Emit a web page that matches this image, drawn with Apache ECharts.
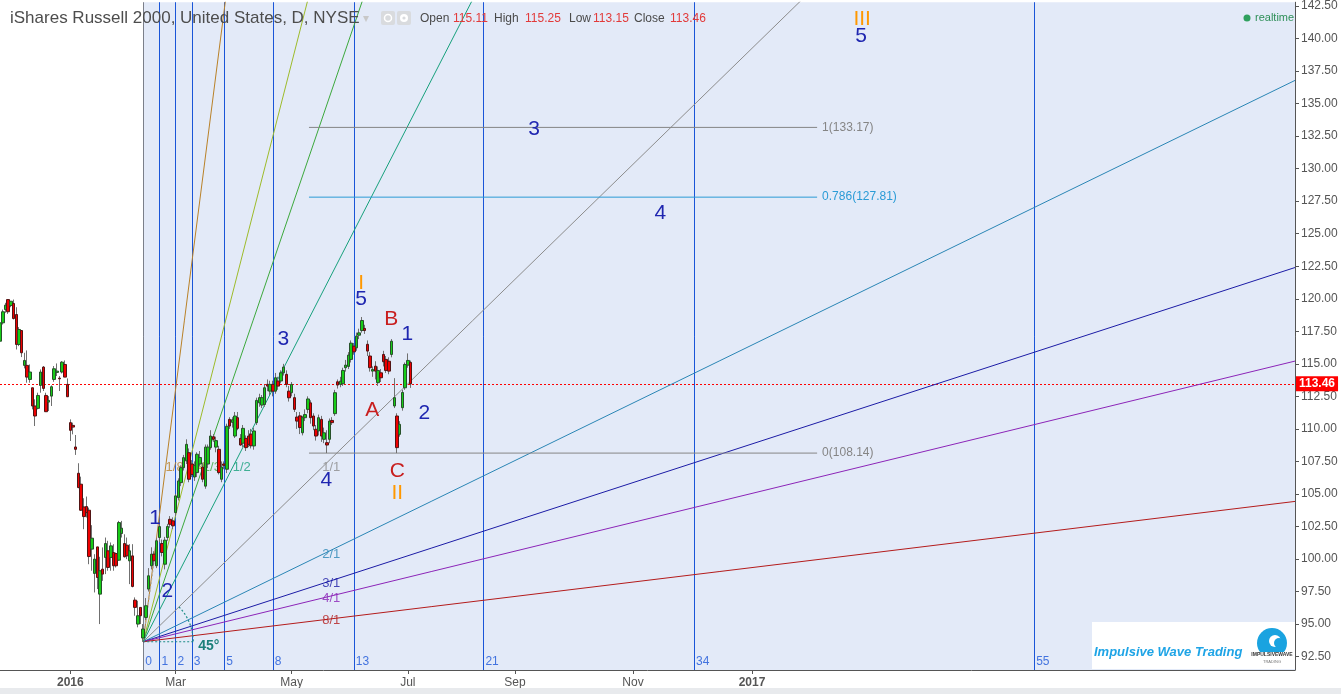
<!DOCTYPE html>
<html>
<head>
<meta charset="utf-8">
<script src="https://cdn.jsdelivr.net/npm/echarts@6.0.0/dist/echarts.min.js"></script>
<style>
html,body{margin:0;padding:0;background:#ffffff;overflow:hidden;}
#chart{width:1341px;height:694px;}
</style>
</head>
<body>
<div id="chart"></div>
<script>
const FONT = '"Liberation Sans", Arial, sans-serif';

// ---------- candles: bar index 0 = Feb 11 2016 low ----------
const firstBarIndex = -53;
const barOpen = [
116.74,118.15,119.17,119.94,119.48,119.64,118.79,116.49,117.56,114.88,114.88,113.80,113.16,111.76,111.58,113.34,114.75,112.57,112.06,112.52,
113.80,114.34,113.90,114.37,114.95,113.42,110.48,110.27,108.61,106.59,105.75,104.00,104.03,103.75,100.76,98.89,100.93,97.30,99.22,100.12,
100.63,100.12,100.50,100.42,99.91,101.96,101.19,101.06,99.86,100.24,96.84,95.00,96.28,93.93,95.51,97.69,99.48,100.37,99.48,101.65,
101.19,99.60,101.65,103.05,102.93,103.57,104.72,105.87,107.02,107.54,108.17,107.30,106.30,106.64,107.30,107.07,105.60,107.30,108.56,109.40,
108.60,108.43,106.13,107.30,106.90,110.73,110.50,109.45,110.86,109.27,108.90,109.27,109.45,109.60,108.69,110.48,112.00,111.83,111.88,113.42,
112.90,113.42,112.90,113.68,113.68,114.31,114.19,112.90,112.78,112.40,110.91,111.00,109.70,110.86,111.50,112.00,110.99,109.97,109.84,110.73,
109.20,108.94,109.20,110.65,111.17,113.62,113.42,113.47,114.70,114.80,115.34,116.36,116.23,117.20,117.56,117.72,116.50,115.60,114.44,114.82,
113.55,114.31,115.72,115.34,115.20,115.72,111.76,110.99,109.58,111.63,113.16,114.90,115.11];
const barHigh = [
118.40,119.17,119.69,119.94,119.81,119.94,119.35,117.82,117.56,115.85,116.03,114.95,113.16,112.27,112.78,114.57,114.83,112.78,112.52,113.34,
114.83,115.03,114.06,115.21,115.26,113.88,110.73,110.48,109.53,107.36,106.33,104.67,104.80,103.95,102.60,100.37,100.93,100.17,100.89,101.65,
101.40,101.27,101.14,100.50,102.93,102.93,101.90,101.65,101.14,101.14,97.05,96.79,96.28,95.00,97.00,99.30,100.90,100.60,101.60,102.90,
101.50,101.70,102.70,103.30,103.20,105.00,106.20,107.20,108.00,109.20,108.50,107.60,107.50,108.20,108.30,107.40,108.80,108.80,109.90,109.60,
109.40,108.70,107.50,107.50,110.40,110.90,110.90,111.30,111.30,109.60,110.30,109.50,109.90,110.00,110.10,112.40,112.70,112.60,113.40,113.80,
113.70,113.70,114.30,114.00,114.50,115.00,114.50,113.30,113.60,112.70,111.30,111.30,111.00,111.50,112.50,112.20,111.20,110.30,111.10,111.00,
110.10,109.90,110.80,110.90,113.00,113.80,114.00,114.70,115.30,115.90,116.80,116.60,117.40,117.70,118.60,118.00,116.80,115.90,114.80,115.20,
114.80,114.60,116.00,115.60,115.50,116.90,113.90,111.20,110.60,113.00,115.10,115.80,115.25];
const barLow = [
116.50,118.02,118.92,118.84,119.35,118.41,116.10,116.36,115.52,114.65,113.55,113.55,111.50,110.22,111.50,112.78,112.91,111.32,111.37,111.76,
113.62,114.06,112.91,114.26,113.98,112.47,109.07,109.58,108.00,105.44,103.70,102.29,103.19,99.60,99.10,97.43,97.69,95.00,98.32,98.84,
99.10,99.10,99.10,99.35,99.86,101.65,100.12,99.99,98.07,97.82,95.64,94.75,95.00,93.64,95.30,97.50,99.20,99.50,99.30,101.30,
100.20,99.20,101.40,102.40,102.30,103.30,104.50,105.60,106.80,107.30,105.90,106.30,106.00,106.30,107.10,105.90,105.40,107.00,108.40,109.00,
108.20,106.50,105.90,106.90,106.60,110.00,110.10,109.30,109.90,108.70,108.60,108.30,108.60,108.50,108.40,110.30,111.70,111.60,111.70,112.90,
112.60,112.50,112.70,113.00,113.50,114.10,113.20,112.10,112.50,111.30,110.00,109.60,109.50,110.60,111.20,110.40,109.90,109.10,109.50,109.00,
108.90,108.14,108.90,110.30,111.00,113.10,113.20,113.30,114.40,114.60,115.10,115.70,116.00,116.90,117.40,117.30,115.60,114.40,114.00,113.80,
113.30,113.60,114.80,114.30,114.20,115.50,111.60,108.14,109.40,111.40,113.00,114.70,113.15];
const barClose = [
118.15,119.00,119.51,119.00,119.81,118.48,116.49,117.64,115.85,115.26,113.98,114.37,111.76,110.99,112.57,114.37,113.11,111.32,112.19,113.24,
114.62,114.44,113.85,115.13,113.98,112.47,109.89,110.14,108.43,105.49,103.75,103.26,103.57,100.19,101.60,99.99,98.58,99.10,98.84,101.19,
99.35,101.01,99.48,99.48,102.80,102.37,100.17,100.24,100.63,97.89,96.28,95.64,95.64,94.62,96.41,98.71,100.37,99.86,101.40,102.49,
100.50,101.45,102.50,102.67,102.55,104.85,106.00,107.02,107.79,108.81,106.13,106.50,107.20,108.05,107.80,106.13,108.60,108.60,109.45,109.20,
109.10,106.64,107.07,107.20,110.20,110.22,110.70,110.99,110.04,108.76,110.04,108.56,108.81,108.70,109.84,112.19,112.40,112.40,113.16,113.29,
113.42,112.90,113.93,113.29,114.31,114.75,113.42,112.39,113.42,111.50,110.60,110.10,110.86,111.10,112.30,110.86,110.22,109.45,110.86,109.45,
109.70,108.76,110.60,110.48,112.78,113.37,113.67,114.49,114.90,115.67,116.59,115.92,117.13,117.38,118.33,117.56,115.98,114.70,114.57,114.44,
114.49,113.93,115.16,114.49,114.44,116.74,112.40,108.56,110.35,112.80,114.95,115.26,113.46];

// ---------- axes ----------
const dateTickBars = [-27, 12, 55, 98, 137.7, 181.4, 225.5];
const dateTickLabels = ['2016', 'Mar', 'May', 'Jul', 'Sep', 'Nov', '2017'];
const priceTicks = [92.5,95,97.5,100,102.5,105,107.5,110,112.5,115,117.5,120,122.5,125,127.5,130,132.5,135,137.5,140,142.5];

// ---------- Fibonacci time zones ----------
const fibZoneNumbers = [0, 1, 2, 3, 5, 8, 13, 21, 34, 55];
const fibZoneUnitBars = 6;

// ---------- Gann fan ----------
const fanOrigin = [0, 93.64];
const fanEnd = [66.3, 107.05];
const fanNames = ['1/8', '1/4', '1/3', '1/2', '1/1', '2/1', '3/1', '4/1', '8/1'];
const fanMultipliers = [8, 4, 3, 2, 1, 1 / 2, 1 / 3, 1 / 4, 1 / 8];

// ---------- Fibonacci retracement ----------
const fibRetrFromBar = 61.4;
const fibRetrToBar = 249.6;
const fibRetrLevels = ['1', '0.786', '0'];
const fibRetrPrices = [133.17, 127.81, 108.14];

// ---------- Elliott wave labels ----------
const waveText  = ['1', '2', '3', '4', 'I', '5', 'A', 'B', 'C', 'II', '1', '2', '3', '4', 'III', '5'];
const waveKind  = ['minor','minor','minor','minor','major','minor','abc','abc','abc','major','minor','minor','minor','minor','major','minor'];
const waveBar   = [4.4, 8.9, 51.9, 67.8, 80.7, 80.7, 84.8, 91.9, 94.1, 94.1, 97.8, 104.1, 144.8, 191.5, 266.3, 265.9];
const wavePrice = [103.16, 97.56, 116.9, 106.08, 121.2, 119.97, 111.45, 118.43, 106.77, 105.08, 117.28, 111.22, 133.0, 126.57, 141.46, 140.15];

// extra dotted guide from the low
const guideBars = [0, 5.1];
const guidePrices = [93.8, 101.3];

// ================= styling / layout =================
const X_MIN = -53.04, X_MAX = 426.6;
const Y_MIN = 91.47, Y_MAX = 142.79;
const fanColors = ['#b98128', '#9dbb2a', '#3ca83c', '#17a07c', '#8c8c8c', '#2a86b5', '#1c1ca6', '#8c25b8', '#b41c1c'];
const fibRetrColors = ['#858585', '#2a9bd6', '#858585'];
const waveColors = { minor: '#1f26b0', major: '#ff9800', abc: '#c81e1e' };
const zoneColor = '#1a55d8';

const n = barOpen.length;
const wickData = [], bodyData = [];
for (let i = 0; i < n; i++) {
  const x = firstBarIndex + i;
  wickData.push([x, barOpen[i], barClose[i], barLow[i], barHigh[i]]);
  bodyData.push([x, barOpen[i], barClose[i], Math.min(barOpen[i], barClose[i]), Math.max(barOpen[i], barClose[i])]);
}

const series = [];

// background + zones
series.push({
  type: 'line', data: [], z: 1, silent: true,
  markArea: { silent: true, itemStyle: { color: '#e3eaf8' }, data: [[{ xAxis: 0 }, { xAxis: X_MAX }]] },
  markLine: {
    silent: true, symbol: 'none', animation: false,
    label: { show: false },
    data: fibZoneNumbers.map((k) => ({ xAxis: k * fibZoneUnitBars, lineStyle: { color: k === 0 ? '#7b7f8a' : zoneColor, width: 1, type: 'solid' } }))
  }
});

// candles: wicks
series.push({
  type: 'candlestick', z: 8, data: wickData, barWidth: 1, encode: { x: 0, y: [1, 2, 3, 4] },
  itemStyle: { color: '#707070', color0: '#707070', borderColor: '#707070', borderColor0: '#707070', borderWidth: 1 },
  silent: true, animation: false
});
// candles: bodies
series.push({
  type: 'candlestick', z: 9, data: bodyData, barWidth: 3, encode: { x: 0, y: [1, 2, 3, 4] },
  itemStyle: { color: '#17cc17', color0: '#ee0000', borderColor: '#27502a', borderColor0: '#521414', borderWidth: 1 },
  silent: true, animation: false,
  markLine: {
    silent: true, symbol: 'none', animation: false,
    lineStyle: { color: '#ff0000', type: [2, 2], width: 1 },
    label: { show: true, position: 'end', distance: 1, formatter: () => barClose[n - 1].toFixed(2),
      backgroundColor: '#ff0000', color: '#ffffff', fontFamily: FONT, fontSize: 12, fontWeight: 'bold', padding: [2, 3, 1, 3] },
    data: [{ yAxis: barClose[n - 1] }]
  }
});

// fib zone number labels
series.push({
  type: 'scatter', z: 6, symbolSize: 0, silent: true, animation: false,
  data: fibZoneNumbers.map((k) => ({ value: [k * fibZoneUnitBars, 92.12], name: String(k) })),
  label: { show: true, position: 'right', distance: 2, formatter: '{b}', color: zoneColor, fontFamily: FONT, fontSize: 12 }
});

// Gann fan lines
const fanSlope = (fanEnd[1] - fanOrigin[1]) / (fanEnd[0] - fanOrigin[0]);
fanMultipliers.forEach((m, i) => {
  const s = fanSlope * m;
  const labelPoint = m > 1 ? [fanEnd[0] / m, fanEnd[1]] : [fanEnd[0], fanOrigin[1] + s * fanEnd[0]];
  series.push({
    type: 'line', z: 5, silent: true, animation: false, symbol: 'none', clip: true,
    lineStyle: { color: fanColors[i], width: 1 },
    data: [[fanOrigin[0], fanOrigin[1]], [X_MAX, fanOrigin[1] + s * (X_MAX - fanOrigin[0])]]
  });
  series.push({
    type: 'scatter', z: 6, symbolSize: 0, silent: true, animation: false,
    data: [{ value: labelPoint, name: fanNames[i] }],
    label: { show: true, position: 'right', distance: 0, formatter: '{b}', color: fanColors[i], fontFamily: FONT, fontSize: 13 }
  });
});

// dotted guide
series.push({
  type: 'line', z: 5, silent: true, animation: false, symbol: 'none',
  lineStyle: { color: '#a9a9a9', width: 1, type: [2, 2] },
  data: guideBars.map((b, i) => [b, guidePrices[i]])
});

// Fib retracement
fibRetrPrices.forEach((p, i) => {
  series.push({
    type: 'line', z: 5, silent: true, animation: false, symbol: 'none',
    lineStyle: { color: fibRetrColors[i], width: 1 },
    data: [[fibRetrFromBar, p], [fibRetrToBar, p]],
    endLabel: { show: true, formatter: fibRetrLevels[i] + '(' + p.toFixed(2) + ')', color: fibRetrColors[i], fontFamily: FONT, fontSize: 12, distance: 5 }
  });
});

// wave labels
series.push({
  type: 'scatter', z: 10, symbolSize: 0, silent: true, animation: false,
  itemStyle: { opacity: 1 },
  data: waveText.map((t, i) => ({ value: [waveBar[i], wavePrice[i]], name: t,
    label: { color: waveColors[waveKind[i]] } })),
  label: { show: true, position: 'inside', formatter: '{b}', fontFamily: FONT, fontSize: 21, textBorderWidth: 0 }
});

const chart = echarts.init(document.getElementById('chart'), null, { renderer: 'canvas' });
chart.setOption({
  animation: false,
  backgroundColor: '#ffffff',
  grid: { left: 0, right: 46, top: 0, bottom: 24, containLabel: false },
  xAxis: {
    type: 'value', min: X_MIN, max: X_MAX, position: 'bottom',
    axisLine: { show: true, onZero: false, lineStyle: { color: '#555', width: 1 } },
    axisTick: { show: true, customValues: dateTickBars, length: 4, lineStyle: { color: '#555' } },
    axisLabel: {
      show: true, customValues: dateTickBars, margin: 7, fontFamily: FONT, fontSize: 12, color: '#555',
      formatter: (v) => {
        const k = dateTickBars.findIndex((b) => Math.abs(b - v) < 0.01);
        if (k < 0) return '';
        const t = dateTickLabels[k];
        return /^\d{4}$/.test(t) ? '{y|' + t + '}' : t;
      },
      rich: { y: { fontWeight: 'bold', fontFamily: FONT, fontSize: 12, color: '#555' } }
    },
    splitLine: { show: false }
  },
  yAxis: {
    type: 'value', min: Y_MIN, max: Y_MAX, position: 'right', scale: true,
    axisLine: { show: true, onZero: false, lineStyle: { color: '#555', width: 1 } },
    axisTick: { show: true, customValues: priceTicks, length: 4, lineStyle: { color: '#555' } },
    axisLabel: { show: true, customValues: priceTicks, margin: 6, fontFamily: FONT, fontSize: 12, color: '#555',
      formatter: (v) => v.toFixed(2) },
    splitLine: { show: false }
  },
  series: series
});

// ---------- overlay graphics (header, angle mark, logo) ----------
const o = chart.convertToPixel({ gridIndex: 0 }, fanOrigin);
const e = chart.convertToPixel({ gridIndex: 0 }, fanEnd);
const ang = Math.atan2(e[1] - o[1], e[0] - o[0]);
const last = n - 1;
const hdr = [['Open', barOpen[last]], ['High', barHigh[last]], ['Low', barLow[last]], ['Close', barClose[last]]];
const hdrX = [[420, 453], [494, 525], [569, 593], [634, 670]];
const graphics = [
  { type: 'rect', shape: { x: 0, y: 688, width: 1341, height: 6 }, style: { fill: '#e8eaed' }, z: 100 },
  { type: 'text', x: 10, y: 18, style: { text: 'iShares Russell 2000, United States, D, NYSE', font: '17px ' + FONT, fill: '#4d4d4d', textVerticalAlign: 'middle' }, z: 100 },
  { type: 'text', x: 363, y: 19, style: { text: '▾', font: '12px ' + FONT, fill: '#c8c8c8', textVerticalAlign: 'middle' }, z: 100 },
  { type: 'rect', shape: { x: 381, y: 11, width: 14, height: 14, r: 2 }, style: { fill: '#d9dbde' }, z: 100 },
  { type: 'circle', shape: { cx: 388, cy: 18, r: 3.5 }, style: { fill: 'none', stroke: '#ffffff', lineWidth: 1.5 }, z: 101 },
  { type: 'rect', shape: { x: 397, y: 11, width: 14, height: 14, r: 2 }, style: { fill: '#d9dbde' }, z: 100 },
  { type: 'circle', shape: { cx: 404, cy: 18, r: 4 }, style: { fill: '#ffffff' }, z: 101 },
  { type: 'circle', shape: { cx: 404, cy: 18, r: 1.6 }, style: { fill: '#d9dbde' }, z: 102 },
  { type: 'circle', shape: { cx: 1247, cy: 18, r: 3.5 }, style: { fill: '#2fa05e' }, z: 100 },
  { type: 'text', x: 1255, y: 18, style: { text: 'realtime', font: '11px ' + FONT, fill: '#2e8f58', textVerticalAlign: 'middle' }, z: 100 },
  // 45 degree marker
  { type: 'line', shape: { x1: o[0], y1: o[1], x2: o[0] + 50, y2: o[1] }, style: { stroke: '#1c8c86', lineWidth: 1.2, lineDash: [2, 2] }, z: 90 },
  { type: 'arc', shape: { cx: o[0], cy: o[1], r: 50, startAngle: ang, endAngle: 0, clockwise: true }, style: { stroke: '#1c8c86', lineWidth: 1.2, lineDash: [2, 2], fill: 'none' }, z: 90 },
  { type: 'text', x: o[0] + 55, y: o[1] + 4, style: { text: '45°', font: 'bold 14px ' + FONT, fill: '#1b7f7a', textVerticalAlign: 'middle' }, z: 90 },
  // logo box
  { type: 'rect', shape: { x: 1092, y: 622, width: 203, height: 47 }, style: { fill: '#ffffff' }, z: 95 },
  { type: 'text', x: 1094, y: 652, style: { text: 'Impulsive Wave Trading', font: 'italic bold 13px ' + FONT, fill: '#1ea4e6', textVerticalAlign: 'middle' }, z: 96 },
  { type: 'circle', shape: { cx: 1272, cy: 643, r: 15 }, style: { fill: '#1aa3e0' }, z: 96 },
  { type: 'circle', shape: { cx: 1275, cy: 641, r: 6 }, style: { fill: '#ffffff' }, z: 97 },
  { type: 'circle', shape: { cx: 1279, cy: 643, r: 5 }, style: { fill: '#1aa3e0' }, z: 98 },
  { type: 'rect', shape: { x: 1256, y: 652, width: 32, height: 7 }, style: { fill: '#ffffff' }, z: 97 },
  { type: 'text', x: 1272, y: 655, style: { text: 'IMPULSIVEWAVE', font: 'bold 5px ' + FONT, fill: '#333', textAlign: 'center', textVerticalAlign: 'middle' }, z: 98 },
  { type: 'text', x: 1272, y: 662, style: { text: 'TRADING', font: '4px ' + FONT, fill: '#777', textAlign: 'center', textVerticalAlign: 'middle' }, z: 98 }
];
hdr.forEach((h, i) => {
  graphics.push({ type: 'text', x: hdrX[i][0], y: 19, style: { text: h[0], font: '12px ' + FONT, fill: '#4a4a4a', textVerticalAlign: 'middle' }, z: 100 });
  graphics.push({ type: 'text', x: hdrX[i][1], y: 19, style: { text: h[1].toFixed(2), font: '12px ' + FONT, fill: '#e23a3a', textVerticalAlign: 'middle' }, z: 100 });
});
chart.setOption({ graphic: graphics });
</script>
</body>
</html>
